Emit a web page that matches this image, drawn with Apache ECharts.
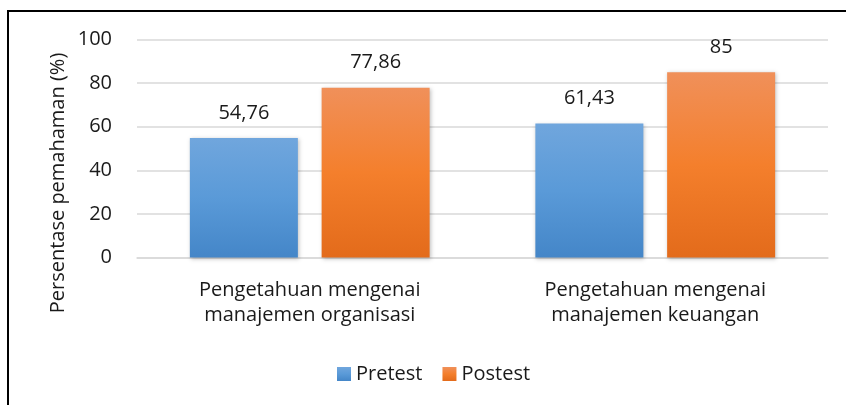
<!DOCTYPE html>
<html>
<head>
<meta charset="utf-8">
<script src="https://cdn.jsdelivr.net/npm/echarts@6/dist/echarts.min.js"></script>
<style>
html,body{margin:0;padding:0;background:#fff;}
#chart{width:846px;height:405px;}
</style>
</head>
<body>
<div id="chart"></div>
<script>
const categories = ['Pengetahuan mengenai\nmanajemen organisasi', 'Pengetahuan mengenai\nmanajemen keuangan'];
const seriesNames = ['Pretest', 'Postest'];
const pretest = [54.76, 61.43];
const postest = [77.86, 85];
const valueLabels = [['54,76', '61,43'], ['77,86', '85']];
const yTicks = [0, 20, 40, 60, 80, 100];
const yTitle = 'Persentase pemahaman (%)';

const FONT = '"Open Sans"';
const FS = 20;
const TXT = '#1a1a1a';
const blueGrad = new echarts.graphic.LinearGradient(0, 0, 0, 1, [
  {offset: 0, color: '#70a6dd'}, {offset: 0.5, color: '#5a9ad8'}, {offset: 1, color: '#4486c8'}]);
const orangeGrad = new echarts.graphic.LinearGradient(0, 0, 0, 1, [
  {offset: 0, color: '#f0905a'}, {offset: 0.5, color: '#f47f2c'}, {offset: 1, color: '#e36b1b'}]);

const chart = echarts.init(document.getElementById('chart'), null, {renderer: 'canvas'});
const mkSeries = (name, data, grad, labels) => ({
  name: name, type: 'bar', data: data, barWidth: 108, barGap: '22%',
  itemStyle: {color: grad, shadowColor: 'rgba(0,0,0,0.25)', shadowBlur: 4, shadowOffsetX: 1, shadowOffsetY: 1},
  label: {show: true, position: 'top', distance: 15, fontFamily: FONT, fontSize: FS, color: TXT,
    formatter: p => labels[p.dataIndex]},
  emphasis: {disabled: true}, animation: false
});

chart.setOption({
  animation: false,
  textStyle: {fontFamily: FONT},
  graphic: [
    {type: 'rect', shape: {x: 8, y: 11, width: 1000, height: 600},
      style: {fill: 'none', stroke: '#000', lineWidth: 2}, silent: true},
    {type: 'text', x: 58, y: 183, rotation: Math.PI / 2,
      style: {text: yTitle, fontFamily: FONT, fontSize: FS, fill: TXT, align: 'center', verticalAlign: 'middle'}, silent: true}
  ],
  grid: {left: 137, right: 18, top: 39.5, bottom: 147.5, containLabel: false},
  legend: {
    data: seriesNames, left: 337, top: 364, padding: 0, itemWidth: 14, itemHeight: 14, itemGap: 20,
    icon: 'rect', textStyle: {fontFamily: FONT, fontSize: FS, color: TXT}
  },
  xAxis: {
    type: 'category', data: categories,
    axisLine: {lineStyle: {color: '#d9d9d9', width: 1.5}}, axisTick: {show: false},
    axisLabel: {fontFamily: FONT, fontSize: FS, color: TXT, lineHeight: 25, margin: 20, interval: 0}
  },
  yAxis: {
    type: 'value', min: yTicks[0], max: yTicks[yTicks.length - 1], interval: 20,
    axisLine: {show: false}, axisTick: {show: false},
    splitLine: {lineStyle: {color: '#d9d9d9', width: 1.5}},
    axisLabel: {fontFamily: FONT, fontSize: FS, color: TXT, margin: 25}
  },
  series: [
    mkSeries(seriesNames[0], pretest, blueGrad, valueLabels[0]),
    mkSeries(seriesNames[1], postest, orangeGrad, valueLabels[1])
  ]
});
</script>
</body>
</html>
